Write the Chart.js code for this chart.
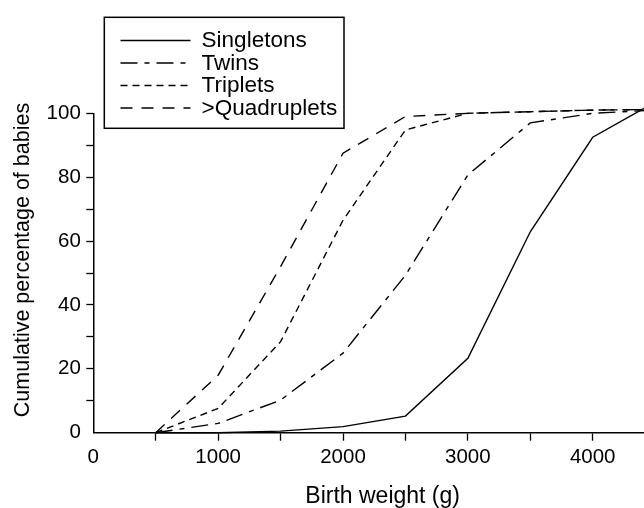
<!DOCTYPE html>
<html>
<head>
<meta charset="utf-8">
<script src="https://cdn.jsdelivr.net/npm/chart.js@4.4.1/dist/chart.umd.min.js"></script>
<style>
  html, body { margin: 0; padding: 0; overflow: hidden; background: #fff; width: 644px; height: 508px; }
  #wrap { position: absolute; left: 0; top: 0; width: 672px; height: 508px; }
</style>
</head>
<body>
<div id="wrap"><canvas id="c" width="672" height="508"></canvas></div>
<script>
// Birth weight classes (g) and cumulative percentage of babies per plurality
const birthWeights = [500, 1000, 1500, 2000, 2500, 3000, 3500, 4000, 4500];
const singletons   = [0, 0, 0.5, 1.9, 5.2, 23.3, 62.9, 92.5, 103.5];
const twins        = [0, 2.9, 10.2, 24.9, 49.3, 80.7, 97, 100, 101];
const triplets     = [0, 7.6, 28.5, 66.5, 94.8, 100, 100.5, 101, 101.2];
const quadruplets  = [0, 18, 52, 87.5, 99, 100, 100.5, 101, 101.2];
const seriesNames  = ['Singletons', 'Twins', 'Triplets', '>Quadruplets'];

// Axis ticks: labelled values and the minor steps between them
const xTickLabels = [0, 1000, 2000, 3000, 4000];
const xTickValues = [0, 500, 1000, 1500, 2000, 2500, 3000, 3500, 4000, 4500];
const yTickLabels = [0, 20, 40, 60, 80, 100];
const yTickValues = [0, 10, 20, 30, 40, 50, 60, 70, 80, 90, 100];

const xTitle = 'Birth weight (g)';
const yTitle = 'Cumulative percentage of babies';

const FONT = '"Liberation Sans", Arial, Helvetica, sans-serif';
const INK = '#000';

const toPoints = vals => birthWeights.map((w, i) => ({ x: w, y: vals[i] }));

const lineStyles = [
  [],            // solid
  [17, 7, 5, 7], // dash-dot
  [7, 5],        // short dash
  [12, 9]        // long dash
];

const datasets = [singletons, twins, triplets, quadruplets].map((vals, i) => ({
  label: seriesNames[i],
  data: toPoints(vals),
  borderColor: INK,
  borderWidth: 1.4,
  borderDash: lineStyles[i],
  pointRadius: 0,
  fill: false,
  tension: 0,
  clip: false
}));

// Boxed key in the upper left, drawn from the datasets' own labels and dashes,
// plus the vertical axis caption set a little above the axis centre.
const boxLegend = {
  id: 'boxLegend',
  afterDraw(chart, args, o) {
    const ctx = chart.ctx;
    ctx.save();
    ctx.strokeStyle = INK;
    ctx.lineWidth = 1.5;
    ctx.setLineDash([]);
    ctx.strokeRect(o.left, o.top, o.width, o.height);
    ctx.font = o.font;
    ctx.fillStyle = INK;
    ctx.textBaseline = 'middle';
    ctx.textAlign = 'left';
    chart.data.datasets.forEach((ds, i) => {
      const y = o.firstRow + i * o.rowGap;
      ctx.lineWidth = ds.borderWidth;
      ctx.setLineDash(ds.borderDash || []);
      ctx.beginPath();
      ctx.moveTo(o.sampleX, y);
      ctx.lineTo(o.sampleX + o.sampleLen, y);
      ctx.stroke();
      ctx.setLineDash([]);
      ctx.fillText(ds.label, o.textX, y + 0.5);
    });

    ctx.translate(o.yTitleX, o.yTitleY);
    ctx.rotate(-Math.PI / 2);
    ctx.font = o.yTitleFont;
    ctx.textAlign = 'center';
    ctx.textBaseline = 'middle';
    ctx.fillText(yTitle, 0, 0);
    ctx.restore();
  }
};

const hideZeroTick = c => (c.tick && c.tick.value === 0) ? 'rgba(0,0,0,0)' : INK;

new Chart(document.getElementById('c'), {
  type: 'line',
  data: { datasets },
  plugins: [boxLegend],
  options: {
    responsive: false,
    animation: false,
    devicePixelRatio: 1,
    layout: { padding: { top: 113.3, right: 0, bottom: 0, left: 0 } },
    plugins: {
      legend: { display: false },
      tooltip: { enabled: false },
      boxLegend: {
        left: 104.3, top: 17.3, width: 239.7, height: 111,
        sampleX: 120.5, sampleLen: 70, textX: 201.6,
        firstRow: 40.5, rowGap: 22.5,
        font: '22.5px ' + FONT,
        yTitleX: 23.5, yTitleY: 260,
        yTitleFont: '21.5px ' + FONT
      }
    },
    scales: {
      x: {
        type: 'linear',
        min: 0,
        max: 4635,
        afterBuildTicks: s => { s.ticks = xTickValues.map(v => ({ value: v })); },
        afterFit: s => { s.height = 75.3; },
        border: { display: true, color: INK, width: 1.5 },
        grid: {
          display: true,
          drawOnChartArea: false,
          drawTicks: true,
          tickLength: 8,
          tickColor: hideZeroTick,
          tickWidth: 1.3
        },
        ticks: {
          autoSkip: false,
          maxRotation: 0,
          padding: 4,
          color: INK,
          font: { family: FONT, size: 20.5 },
          callback: v => xTickLabels.includes(v) ? String(v) : ''
        },
        title: {
          display: true,
          text: xTitle,
          color: INK,
          font: { family: FONT, size: 23, lineHeight: 1 },
          padding: { top: 0, bottom: 0 }
        }
      },
      y: {
        type: 'linear',
        min: 0,
        max: 100,
        afterBuildTicks: s => { s.ticks = yTickValues.map(v => ({ value: v })); },
        afterFit: s => { s.width = 93.3; },
        border: { display: true, color: INK, width: 1.5 },
        grid: {
          display: true,
          drawOnChartArea: false,
          drawTicks: true,
          tickLength: 7,
          tickColor: hideZeroTick,
          tickWidth: 1.3
        },
        ticks: {
          autoSkip: false,
          padding: 5.5,
          color: INK,
          font: { family: FONT, size: 20.5 },
          callback: v => yTickLabels.includes(v) ? String(v) : ''
        },
        title: { display: false }
      }
    }
  }
});
</script>
</body>
</html>
